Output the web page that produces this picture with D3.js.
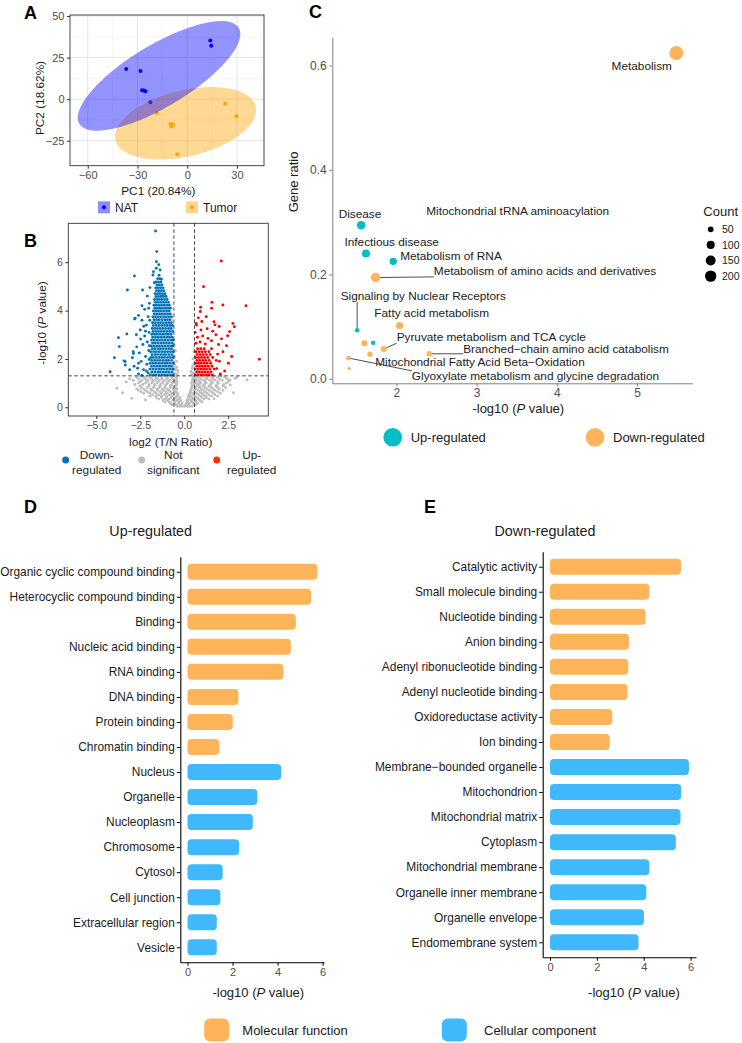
<!DOCTYPE html>
<html><head><meta charset="utf-8">
<script src="https://cdn.jsdelivr.net/npm/d3@7"></script>
<style>body{margin:0;background:#fff}svg{font-family:"Liberation Sans",Arial,Helvetica,sans-serif}</style>
</head><body>
<svg id="fig" width="742" height="1043"></svg>
<script>
// ================= DATA =================
// Panel A: PCA scores [PC1, PC2]
const pcaNAT = [[13.9,35.3],[14.5,32.1],[-36.8,18.1],[-28.2,16.9],[-27.2,5.4],[-26.2,5.2],[-25.2,4.8],[-22.2,-1.8]];
const pcaTumor = [[22.9,-2.8],[29.6,-10.2],[-18.3,-8.3],[-10.1,-14.9],[-9.5,-16.5],[-8.5,-15.3],[-9.8,-15.8],[-5.9,-33.1]];
// confidence ellipses: centre, major semi-axis vector, minor semi-axis vector (data units)
const ellipseNAT = {center:[-17,14], major:[48.1,28.8], minor:[9.5,-16.0]};
const ellipseTumor = {center:[-1,-14.5], major:[42.3,10.1], minor:[4.6,-19.3]};
const pcaXTicks = [-60,-30,0,30];
const pcaYTicks = [-25,0,25,50];

// Panel B: volcano [log2 ratio, -log10 P]
const downCoreRows = [
 [1.34,[-1.92,-1.75,-1.6,-1.43,-1.27,-1.12,-0.95,-0.79,-0.64]],
 [1.46,[-1.84,-1.67,-1.5,-1.35,-1.18,-1.02,-0.87,-0.7]],
 [1.58,[-1.95,-1.78,-1.61,-1.44,-1.29,-1.13,-0.96,-0.8,-0.65]],
 [1.70,[-1.86,-1.7,-1.53,-1.37,-1.2,-1.05,-0.88,-0.72]],
 [1.82,[-1.93,-1.77,-1.62,-1.45,-1.28,-1.11,-0.97,-0.81,-0.63]],
 [1.94,[-1.85,-1.68,-1.52,-1.36,-1.19,-1.03,-0.89,-0.71]],
 [2.06,[-1.9,-1.76,-1.6,-1.43,-1.27,-1.12,-0.95,-0.79,-0.64]],
 [2.18,[-1.83,-1.66,-1.51,-1.34,-1.18,-1.04,-0.87,-0.7]],
 [2.30,[-1.91,-1.74,-1.59,-1.42,-1.26,-1.1,-0.94,-0.78,-0.62]],
 [2.42,[-1.82,-1.67,-1.5,-1.35,-1.19,-1.02,-0.86,-0.71]],
 [2.54,[-1.88,-1.73,-1.57,-1.41,-1.25,-1.09,-0.93,-0.77,-0.63]],
 [2.66,[-1.8,-1.65,-1.49,-1.33,-1.17,-1.01,-0.85,-0.69]],
 [2.78,[-1.86,-1.71,-1.56,-1.4,-1.24,-1.08,-0.92,-0.76,-0.62]],
 [2.90,[-1.79,-1.63,-1.47,-1.31,-1.15,-0.99,-0.84,-0.68]],
 [3.02,[-1.84,-1.69,-1.54,-1.38,-1.22,-1.06,-0.91,-0.75]],
 [3.14,[-1.77,-1.61,-1.46,-1.3,-1.14,-0.98,-0.82,-0.66]],
 [3.26,[-1.82,-1.67,-1.52,-1.37,-1.21,-1.05,-0.89,-0.74]],
 [3.38,[-1.75,-1.59,-1.44,-1.28,-1.12,-0.97,-0.81,-0.67]],
 [3.50,[-1.8,-1.66,-1.5,-1.35,-1.19,-1.03,-0.88,-0.73]],
 [3.62,[-1.72,-1.57,-1.42,-1.26,-1.1,-0.95,-0.8]],
 [3.74,[-1.78,-1.63,-1.48,-1.33,-1.17,-1.02,-0.87,-0.72]],
 [3.86,[-1.7,-1.55,-1.4,-1.24,-1.09,-0.94,-0.79]],
 [3.98,[-1.75,-1.6,-1.46,-1.31,-1.16,-1.0,-0.85]],
 [4.10,[-1.67,-1.52,-1.38,-1.23,-1.07,-0.92,-0.78]],
 [4.22,[-1.72,-1.58,-1.44,-1.29,-1.14,-0.99,-0.85]],
 [4.34,[-1.64,-1.5,-1.35,-1.2,-1.05,-0.9]],
 [4.46,[-1.69,-1.55,-1.41,-1.27,-1.12,-0.97]],
 [4.58,[-1.61,-1.47,-1.33,-1.18,-1.03]],
 [4.70,[-1.66,-1.52,-1.39,-1.24,-1.09]],
 [4.82,[-1.58,-1.44,-1.3,-1.16]],
 [4.94,[-1.62,-1.49,-1.35,-1.21]],
 [5.06,[-1.55,-1.41,-1.27]],
 [5.18,[-1.6,-1.46,-1.32]],
 [5.32,[-1.51,-1.38]],
 [5.46,[-1.43]]
];
const downSparse = [[-2.05,1.42],[-2.31,1.55],[-2.6,1.38],[-2.12,1.78],[-2.45,1.9],[-2.85,1.7],[-2.2,2.1],[-2.02,2.35],[-2.55,2.25],[-2.35,2.6],[-2.1,2.7],[-2.7,2.5],[-2.25,2.95],[-2.0,3.1],[-2.5,3.2],[-2.15,3.4],[-2.4,3.6],[-2.05,3.75],[-2.6,3.8],[-2.25,4.05],[-1.98,4.3],[-2.4,4.2],[-2.1,4.6],[-1.95,4.95],[-2.95,2.05],[-3.1,1.55],[-2.9,2.3],[-2.72,3.0],[-2.4,1.32],[-2.0,1.98],[-2.2,3.15],[-2.65,1.62],[-3.35,1.75],[-2.82,3.65],[-1.98,2.55],[-2.15,1.5],[-2.48,2.82],[-2.3,3.35],[-2.02,4.1],[-1.96,3.6],
 [-1.63,7.29],[-1.56,6.44],[-1.58,6.02],[-2.83,5.43],[-1.78,5.47],[-1.37,5.68],[-3.23,4.85],[-2.37,4.85],[-3.74,2.88],[-3.26,3.03],[-3.97,2.05],[-4.21,1.47],[-3.42,1.92],[-2.79,3.68],[-3.69,2.51],[-1.75,5.61],[-1.59,5.75],[-2.89,2.23],[-2.6,1.82],[-3.36,1.89],[-1.45,5.9],[-1.3,5.3],[-1.7,5.15],[-1.2,4.6]];
const upCoreRows = [
 [1.34,[0.62,0.78,0.94,1.1,1.26,1.42,1.6]],
 [1.46,[0.7,0.86,1.02,1.18,1.34,1.52]],
 [1.58,[0.63,0.79,0.95,1.11,1.27,1.45,1.7]],
 [1.70,[0.71,0.87,1.03,1.2,1.37,1.58]],
 [1.82,[0.64,0.8,0.96,1.13,1.3,1.5]],
 [1.94,[0.72,0.88,1.05,1.22,1.42,1.82]],
 [2.06,[0.65,0.81,0.98,1.15,1.34,1.62]],
 [2.18,[0.73,0.9,1.07,1.26,1.48]],
 [2.30,[0.66,0.84,1.01,1.2,1.4]],
 [2.42,[0.76,0.94,1.13,1.55]]
];
const upSparse = [[0.66,2.65],[0.9,2.7],[1.2,2.62],[1.55,2.75],[1.95,2.6],[0.75,2.9],[1.05,2.95],[1.35,2.85],[1.8,3.0],[0.62,3.1],[0.95,3.2],[1.3,3.25],[1.62,3.15],[2.12,2.83],[2.47,2.96],[2.58,3.13],[0.7,3.4],[1.0,3.55],[0.67,3.47],[1.69,3.54],[1.75,3.41],[1.99,3.34],[2.77,3.47],[2.85,3.33],[0.91,3.96],[0.93,4.14],[1.56,4.1],[1.58,4.34],[2.2,4.23],[3.51,4.2],[1.1,4.99],[2.11,6.05],[4.27,1.99],[2.51,1.82],[2.3,1.5],[2.05,1.38],[2.2,2.3],[1.9,2.2],[1.25,3.75],[0.8,3.7],[2.4,2.55],[2.7,2.1],[1.85,1.6],[2.0,1.9]];
const nsRows = [
 [0.04,[-0.25,-0.1,0.04,0.18,0.3,-0.4,0.45]],
 [0.10,[-0.45,-0.2,0.08,0.25,0.6,-0.7]],
 [0.16,[-0.55,-0.33,-0.12,0.12,0.3,0.52,-0.8,0.75]],
 [0.22,[-0.85,-0.55,-0.3,0.2,0.45,0.68,1.0,-1.1]],
 [0.28,[-0.95,-0.65,-0.42,-0.2,0.15,0.38,0.62,0.9,-1.2]],
 [0.34,[-1.45,-1.1,-0.85,-0.58,-0.32,0.28,0.52,0.8,1.12,1.4]],
 [0.40,[-1.3,-1.0,-0.75,-0.5,-0.25,0.22,0.45,0.7,1.0,1.25,-1.6]],
 [0.46,[-1.95,-1.6,-1.3,-1.0,-0.72,-0.42,0.25,0.38,0.62,0.92,1.22,1.55,1.9]],
 [0.52,[-1.8,-1.45,-1.15,-0.85,-0.6,-0.35,0.3,0.55,0.82,1.1,1.4,1.75]],
 [0.58,[-2.3,-1.95,-1.6,-1.3,-1.0,-0.7,-0.4,0.32,0.48,0.72,1.0,1.3,1.65,2.05]],
 [0.64,[-2.1,-1.7,-1.35,-1.05,-0.78,-0.45,0.35,0.6,0.9,1.2,1.55,1.9,-2.45]],
 [0.70,[-2.6,-2.2,-1.85,-1.5,-1.18,-0.88,-0.55,0.38,0.55,0.8,1.1,1.42,1.75,2.2]],
 [0.76,[-2.3,-1.9,-1.55,-1.25,-0.95,-0.62,-0.42,0.4,0.68,0.98,1.3,1.65,2.0,-2.7]],
 [0.82,[-2.45,-2.1,-1.75,-1.42,-1.1,-0.78,-0.5,0.42,0.6,0.88,1.18,1.52,1.9,2.35]],
 [0.88,[-2.0,-1.7,-1.4,-1.1,-0.8,-0.5,0.45,0.75,1.05,1.4,1.8,2.2,-2.5]],
 [0.94,[-2.8,-2.35,-2.0,-1.68,-1.35,-1.02,-0.72,-0.42,0.5,0.62,0.85,1.15,1.5,1.85,2.25]],
 [1.00,[-2.6,-2.2,-1.85,-1.55,-1.25,-0.95,-0.68,-0.45,0.42,0.7,0.95,1.25,1.6,1.95,2.4]],
 [1.06,[-2.5,-2.15,-1.8,-1.5,-1.2,-0.9,-0.6,-0.4,0.45,0.65,0.88,1.2,1.55,1.9,2.5]],
 [1.12,[-2.9,-2.4,-2.05,-1.7,-1.4,-1.1,-0.8,-0.5,0.5,0.8,1.1,1.45,1.75,2.15,2.6]],
 [1.18,[-3.1,-2.6,-2.2,-1.85,-1.55,-1.25,-0.95,-0.65,-0.42,0.48,0.68,0.95,1.3,1.65,2.0,2.45]],
 [1.24,[-2.7,-2.3,-1.95,-1.6,-1.3,-1.0,-0.7,-0.45,0.55,0.85,1.2,1.55,1.9,2.3,3.0]],
 [1.29,[-2.5,-2.15,-1.8,-1.45,-1.15,-0.85,-0.55,0.5,0.75,1.05,1.35,1.7,2.1]]
];
const nsSparse = [[-0.55,1.4],[-0.48,1.55],[-0.52,1.72],[-0.45,1.9],[-0.55,2.1],[-0.5,2.35],[-0.4,1.38],[0.5,1.42],[0.45,1.6],[0.55,1.8],[0.5,2.0],[0.56,2.3],[0.42,1.35],[-0.57,2.6],[-0.36,1.5],[-0.42,1.65],[0.38,1.48],[0.48,1.7],[-3.83,0.79],[-2.98,0.37],[3.57,1.13],[2.62,0.92],[-3.3,1.05],[-2.2,0.3],[1.7,0.35],[2.9,1.2],[-1.55,1.2],[-0.75,0.15],[0.65,0.25],[-3.5,0.6],[2.8,0.6]];
const volcanoXTicks = [-5,-2.5,0,2.5];
const volcanoYTicks = [0,2,4,6];
const fcCut = 0.585, pCut = 1.301;

// Panel C: pathway enrichment
const pathNames = ["Metabolism","Disease","Infectious disease","Metabolism of RNA","Metabolism of amino acids and derivatives","Signaling by Nuclear Receptors","Fatty acid metabolism","Up pathway (unlabelled)","Down pathway (unlabelled)","Pyruvate metabolism and TCA cycle","Branched\u2212chain amino acid catabolism","Mitochondrial Fatty Acid Beta\u2212Oxidation","Glyoxylate metabolism and glycine degradation","Mitochondrial tRNA aminoacylation"];
const pathP = [5.49,1.56,1.62,1.96,1.74,1.51,2.04,1.71,1.60,1.84,2.41,1.67,1.40,1.41];
const pathRatio = [0.624,0.294,0.240,0.225,0.194,0.093,0.102,0.069,0.068,0.057,0.048,0.047,0.040,0.020];
const pathCount = [300,114,98,84,136,33,84,33,55,55,45,45,33,18];
const pathDir = ["Down","Up","Up","Up","Down","Up","Down","Up","Down","Down","Down","Down","Down","Down"];
// repelled label centres (data units), null = no label
const labelAt = [[5.06,0.600],[1.545,0.315],[1.941,0.2615],[2.68,0.236],[3.853,0.207],[2.335,0.159],[2.44,0.126],null,null,[3.183,0.080],[4.115,0.0567],[3.042,0.033],[3.734,0.006],[3.512,0.321]];
const labelSegment = [false,false,false,false,true,true,false,false,false,true,true,false,true,false];
const countLegend = [50,100,150,200];
const pathXTicks = [2,3,4,5];
const pathYTicks = [0,0.2,0.4,0.6];

// Panel D
const upTerms = ["Organic cyclic compound binding","Heterocyclic compound binding","Binding","Nucleic acid binding","RNA binding","DNA binding","Protein binding","Chromatin binding","Nucleus","Organelle","Nucleoplasm","Chromosome","Cytosol","Cell junction","Extracellular region","Vesicle"];
const upValues = [5.77,5.49,4.81,4.59,4.26,2.26,2.01,1.41,4.16,3.10,2.90,2.29,1.56,1.46,1.30,1.30];
const upCat = ["MF","MF","MF","MF","MF","MF","MF","MF","CC","CC","CC","CC","CC","CC","CC","CC"];
// Panel E
const downTerms = ["Catalytic activity","Small molecule binding","Nucleotide binding","Anion binding","Adenyl ribonucleotide binding","Adenyl nucleotide binding","Oxidoreductase activity","Ion binding","Membrane\u2212bounded organelle","Mitochondrion","Mitochondrial matrix","Cytoplasm","Mitochondrial membrane","Organelle inner membrane","Organelle envelope","Endomembrane system"];
const downValues = [5.59,4.24,4.08,3.37,3.34,3.31,2.66,2.55,5.93,5.60,5.57,5.37,4.24,4.11,4.01,3.78];
const downCat = ["MF","MF","MF","MF","MF","MF","MF","MF","CC","CC","CC","CC","CC","CC","CC","CC"];
const barXTicks = [0,2,4,6];
const catNames = {MF:"Molecular function", CC:"Cellular component"};

// ================= STYLE =================
const COL = {nat:"#0000FF", tumor:"#FFA500", down:"#0072B5", up:"#FF0000", ns:"#BEBEBE",
  teal:"#00BFC4", orange:"#FFB35C", MF:"#FFB459", CC:"#40B9FC", tick:"#4D4D4D", text:"#1A1A1A"};

const svg = d3.select("#fig");
svg.append("rect").attr("width",742).attr("height",1043).attr("fill","#fff");

function letter(t,x,y){svg.append("text").attr("x",x).attr("y",y).attr("font-size",18).attr("font-weight","bold").attr("fill","#000").text(t);}
function pTitle(g,x,y,size,rot){
  const t=g.append("text").attr("text-anchor","middle").attr("font-size",size).attr("fill",COL.text)
    .attr("transform",`translate(${x},${y})${rot?" rotate(-90)":""}`);
  t.append("tspan").text("-log10 (");
  t.append("tspan").attr("font-style","italic").text("P");
  t.append("tspan").text(" value)");
  return t;
}
function styleAxis(g,col,fs,tcol){
  g.selectAll(".tick line").attr("stroke",col);
  g.selectAll(".tick text").attr("fill",tcol).attr("font-size",fs).attr("font-family","inherit");
  g.select(".domain").attr("stroke",col);
}

// ================= PANEL A =================
{
  const x=d3.scaleLinear().domain([-70.7,46.3]).range([70,264]);
  const y=d3.scaleLinear().domain([-40,50.6]).range([165.7,15]);
  const g=svg.append("g");
  const xs=[-75,-45,-15,15,45], ys=[-37.5,-12.5,12.5,37.5];
  g.selectAll(".mx").data(xs.filter(v=>v>x.domain()[0]&&v<x.domain()[1])).join("line").attr("x1",d=>x(d)).attr("x2",d=>x(d)).attr("y1",15).attr("y2",165.7).attr("stroke","#F0F0F0").attr("stroke-width",0.6);
  g.selectAll(".my").data(ys).join("line").attr("y1",d=>y(d)).attr("y2",d=>y(d)).attr("x1",70).attr("x2",264).attr("stroke","#F0F0F0").attr("stroke-width",0.6);
  g.selectAll(".gx").data(pcaXTicks).join("line").attr("x1",d=>x(d)).attr("x2",d=>x(d)).attr("y1",15).attr("y2",165.7).attr("stroke","#E4E4E4").attr("stroke-width",1);
  g.selectAll(".gy").data(pcaYTicks).join("line").attr("y1",d=>y(d)).attr("y2",d=>y(d)).attr("x1",70).attr("x2",264).attr("stroke","#E4E4E4").attr("stroke-width",1);
  g.selectAll(".pn").data(pcaNAT).join("circle").attr("cx",d=>x(d[0])).attr("cy",d=>y(d[1])).attr("r",2).attr("fill",COL.nat);
  g.selectAll(".pt").data(pcaTumor).join("circle").attr("cx",d=>x(d[0])).attr("cy",d=>y(d[1])).attr("r",2).attr("fill",COL.tumor);
  const ell=e=>{const pts=d3.range(0,2*Math.PI+0.001,Math.PI/60).map(t=>[x(e.center[0]+Math.cos(t)*e.major[0]+Math.sin(t)*e.minor[0]),y(e.center[1]+Math.cos(t)*e.major[1]+Math.sin(t)*e.minor[1])]);return d3.line()(pts)+"Z";};
  g.append("path").attr("d",ell(ellipseTumor)).attr("fill",COL.tumor).attr("fill-opacity",0.42);
  g.append("path").attr("d",ell(ellipseNAT)).attr("fill",COL.nat).attr("fill-opacity",0.42);
  g.append("rect").attr("x",70).attr("y",15).attr("width",194).attr("height",150.7).attr("fill","none").attr("stroke","#333").attr("stroke-width",0.9);
  const ax=g.append("g").attr("transform","translate(0,165.7)").call(d3.axisBottom(x).tickValues(pcaXTicks).tickFormat(d3.format("d")).tickSize(3).tickPadding(2.5));
  styleAxis(ax,"#333",11,COL.tick); ax.select(".domain").remove();
  const ay=g.append("g").attr("transform","translate(70,0)").call(d3.axisLeft(y).tickValues(pcaYTicks).tickFormat(d3.format("d")).tickSize(3).tickPadding(2.5));
  styleAxis(ay,"#333",11,COL.tick); ay.select(".domain").remove();
  g.append("text").attr("x",158.3).attr("y",194.5).attr("text-anchor","middle").attr("font-size",11.8).attr("fill",COL.text).text("PC1 (20.84%)");
  g.append("text").attr("transform","translate(44,98) rotate(-90)").attr("text-anchor","middle").attr("font-size",11.8).attr("fill",COL.text).text("PC2 (18.62%)");
  // legend
  [["NAT",COL.nat,104],["Tumor",COL.tumor,192]].forEach(([n,c,cx])=>{
    g.append("rect").attr("x",cx-6).attr("y",201.3).attr("width",12).attr("height",12).attr("fill",c).attr("fill-opacity",0.45);
    g.append("circle").attr("cx",cx).attr("cy",207.3).attr("r",2).attr("fill",c);
    g.append("text").attr("x",cx+11).attr("y",211.5).attr("font-size",12).attr("fill",COL.text).text(n);
  });
  letter("A",24,19);
}

// ================= PANEL B =================
{
  const x=d3.scaleLinear().domain([-6.59,4.78]).range([68.3,268.3]);
  const y=d3.scaleLinear().domain([-0.36,7.61]).range([416,223.3]);
  const g=svg.append("g");
  const flat=rows=>rows.flatMap(([yy,xs])=>xs.map(v=>[v,yy]));
  const ns=flat(nsRows).concat(nsSparse), dn=flat(downCoreRows).concat(downSparse), up=flat(upCoreRows).concat(upSparse);
  g.selectAll(".ns").data(ns).join("circle").attr("cx",d=>x(d[0])).attr("cy",d=>y(d[1])).attr("r",1.45).attr("fill",COL.ns);
  g.selectAll(".dn").data(dn).join("circle").attr("cx",d=>x(d[0])).attr("cy",d=>y(d[1])).attr("r",1.45).attr("fill",COL.down);
  g.selectAll(".up").data(up).join("circle").attr("cx",d=>x(d[0])).attr("cy",d=>y(d[1])).attr("r",1.45).attr("fill",COL.up);
  [-fcCut,fcCut].forEach(v=>g.append("line").attr("x1",x(v)).attr("x2",x(v)).attr("y1",223.3).attr("y2",416).attr("stroke","#333").attr("stroke-width",0.9).attr("stroke-dasharray","3.5,2.5"));
  g.append("line").attr("x1",68.3).attr("x2",268.3).attr("y1",y(pCut)).attr("y2",y(pCut)).attr("stroke","#333").attr("stroke-width",0.9).attr("stroke-dasharray","3.5,2.5");
  g.append("rect").attr("x",68.3).attr("y",223.3).attr("width",200).attr("height",192.7).attr("fill","none").attr("stroke","#333").attr("stroke-width",0.9);
  const ax=g.append("g").attr("transform","translate(0,416)").call(d3.axisBottom(x).tickValues(volcanoXTicks).tickFormat(d3.format(".1f")).tickSize(3).tickPadding(2.5));
  styleAxis(ax,"#333",10.5,COL.tick); ax.select(".domain").remove();
  const ay=g.append("g").attr("transform","translate(68.3,0)").call(d3.axisLeft(y).tickValues(volcanoYTicks).tickFormat(d3.format("d")).tickSize(3).tickPadding(2.5));
  styleAxis(ay,"#333",10.5,COL.tick); ay.select(".domain").remove();
  g.append("text").attr("x",170.7).attr("y",445.5).attr("text-anchor","middle").attr("font-size",11.8).attr("fill",COL.text).text("log2 (T/N Ratio)");
  pTitle(g,46,323,11.8,true);
  [[COL.down,65.7,96.7,"Down-","regulated"],[COL.ns,141.7,173.3,"Not","significant"],["#FF3300",216.7,251.7,"Up-","regulated"]].forEach(([c,cx,tx,l1,l2])=>{
    g.append("circle").attr("cx",cx).attr("cy",460).attr("r",3.5).attr("fill",c);
    g.append("text").attr("x",tx).attr("y",459).attr("text-anchor","middle").attr("font-size",11.8).attr("fill",COL.text).text(l1);
    g.append("text").attr("x",tx).attr("y",474).attr("text-anchor","middle").attr("font-size",11.8).attr("fill",COL.text).text(l2);
  });
  letter("B",24,246.5);
}

// ================= PANEL C =================
{
  const x=d3.scaleLinear().domain([1.2,5.69]).range([332.3,692.3]);
  const y=d3.scaleLinear().domain([-0.0085,0.654]).range([383.3,37.3]);
  const r=d3.scaleSqrt().domain([0,200]).range([0,5.7]);
  const g=svg.append("g");
  const idx=d3.range(pathNames.length);
  const lab=g.append("g"), seg=g.append("g");
  idx.forEach(i=>{
    if(!labelAt[i]) return;
    const t=lab.append("text").attr("x",x(labelAt[i][0])).attr("y",y(labelAt[i][1])).attr("dy","0.35em").attr("text-anchor","middle").attr("font-size",11.8).attr("fill",COL.text).text(pathNames[i]);
    if(labelSegment[i]){
      const b=t.node().getBBox(); const px=x(pathP[i]), py=y(pathRatio[i]);
      const ex=Math.max(b.x,Math.min(px,b.x+b.width)), ey=Math.max(b.y+2,Math.min(py,b.y+b.height-1));
      seg.append("line").attr("x1",px).attr("y1",py).attr("x2",ex).attr("y2",ey).attr("stroke","#222").attr("stroke-width",0.8);
    }
  });
  g.selectAll(".pc").data(idx).join("circle").attr("cx",i=>x(pathP[i])).attr("cy",i=>y(pathRatio[i])).attr("r",i=>r(pathCount[i])).attr("fill",i=>pathDir[i]==="Up"?COL.teal:COL.orange);
  const ax=g.append("g").attr("transform","translate(0,383.3)").call(d3.axisBottom(x).tickValues(pathXTicks).tickFormat(d3.format("d")).tickSize(3).tickPadding(2.5).tickSizeOuter(0));
  styleAxis(ax,"#808080",12,COL.tick);
  const ay=g.append("g").attr("transform","translate(332.3,0)").call(d3.axisLeft(y).tickValues(pathYTicks).tickFormat(d3.format(".1f")).tickSize(3).tickPadding(2.5).tickSizeOuter(0));
  styleAxis(ay,"#808080",12,COL.tick);
  pTitle(g,518.3,412.5,13,false);
  g.append("text").attr("transform","translate(298,182) rotate(-90)").attr("text-anchor","middle").attr("font-size",13).attr("fill",COL.text).text("Gene ratio");
  g.append("text").attr("x",703.3).attr("y",215.5).attr("font-size",13).attr("fill",COL.text).text("Count");
  countLegend.forEach((c,k)=>{
    const cy=229.3+k*15.6;
    g.append("circle").attr("cx",710.7).attr("cy",cy).attr("r",r(c)).attr("fill","#000");
    g.append("text").attr("x",722).attr("y",cy).attr("dy","0.35em").attr("font-size",10.5).attr("fill",COL.text).text(c);
  });
  [[COL.teal,392.7,"Up-regulated"],[COL.orange,595,"Down-regulated"]].forEach(([c,cx,t])=>{
    g.append("circle").attr("cx",cx).attr("cy",437.3).attr("r",9.3).attr("fill",c);
    g.append("text").attr("x",cx+18).attr("y",437.3).attr("dy","0.35em").attr("font-size",13).attr("fill",COL.text).text(t);
  });
  letter("C",309,17.5);
}

// ================= PANELS D/E =================
function barPanel(terms,vals,cats,xDom,xRange,yTop,yBot,title,titleX,titleXpos){
  const g=svg.append("g");
  const x=d3.scaleLinear().domain(xDom).range(xRange);
  const y=d3.scaleLinear().domain([-0.6,terms.length-0.4]).range([yTop,yBot]);
  g.selectAll("rect.bar").data(terms).join("rect").attr("class","bar")
    .attr("x",x(0)).attr("y",(d,i)=>y(i)-8).attr("width",(d,i)=>x(vals[i])-x(0)).attr("height",16)
    .attr("rx",4).attr("fill",(d,i)=>COL[cats[i]]);
  const ay=g.append("g").attr("transform",`translate(${xRange[0]},0)`).call(d3.axisLeft(y).tickValues(d3.range(terms.length)).tickFormat(i=>terms[i]).tickSize(3.5).tickPadding(2).tickSizeOuter(0));
  styleAxis(ay,"#000",11.9,COL.text); ay.select(".domain").attr("stroke-width",1.1);
  const ax=g.append("g").attr("transform",`translate(0,${yBot})`).call(d3.axisBottom(x).tickValues(barXTicks).tickFormat(d3.format("d")).tickSize(3.5).tickPadding(2.5).tickSizeOuter(0));
  styleAxis(ax,"#000",11,COL.tick); ax.select(".domain").attr("stroke-width",1.1);
  g.append("text").attr("x",titleX).attr("y",535.5).attr("text-anchor","middle").attr("font-size",14.3).attr("fill",COL.text).text(title);
  pTitle(g,titleXpos,996.5,13,false);
}
barPanel(upTerms,upValues,upCat,[-0.32,6.06],[180.3,324],556.7,962.3,"Up-regulated",150.7,258.3);
barPanel(downTerms,downValues,downCat,[-0.31,6.23],[542.7,696],551.7,957.3,"Down-regulated",545,634);
letter("D",24,512.5);
letter("E",424,512.5);
// bottom legend
[["MF",216.7,242.3],["CC",454.3,484]].forEach(([k,cx,tx])=>{
  svg.append("rect").attr("x",cx-12.5).attr("y",1018.5).attr("width",25).attr("height",23).attr("rx",6).attr("fill",COL[k]);
  svg.append("text").attr("x",tx).attr("y",1030).attr("dy","0.35em").attr("font-size",13).attr("fill",COL.text).text(catNames[k]);
});
</script>
</body></html>
